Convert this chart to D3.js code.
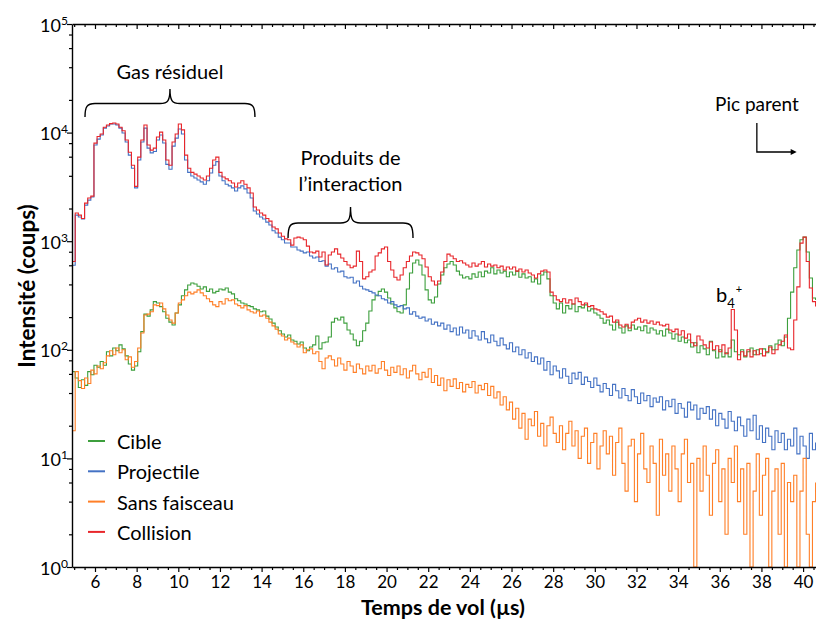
<!DOCTYPE html>
<html>
<head>
<meta charset="utf-8">
<script src="https://cdn.jsdelivr.net/npm/d3@7"></script>
<style>
  body { margin: 0; background: #fff; }
  svg { display: block; }
  text { font-family: Lato, "Open Sans", "DejaVu Sans", sans-serif; fill: #000; }
</style>
</head>
<body>
<svg id="chart" width="816" height="620"></svg>
<script>
// Time-of-flight bins (µs): first bin and bin width
const binStart = 4.9;
const binWidth = 0.15;

// Counts per bin, one array per acquisition
const cible = [
  63,55,45,53,47,63,59,72,69,78,
  72,96,88,104,98,111,102,88,74,65,
  71,96,147,213,204,233,278,270,250,224,
  195,180,169,218,259,315,356,395,412,404,
  385,363,380,345,363,334,345,363,356,371,
  340,327,295,283,270,264,255,250,238,233,
  224,228,204,192,176,162,150,140,131,137,
  123,120,113,118,104,98,106,111,134,102,
  116,118,131,180,195,188,200,176,152,140,
  123,109,120,150,176,228,288,315,345,363,
  340,300,264,243,224,218,259,363,510,630,
  671,604,488,356,288,270,306,404,488,570,
  617,650,604,530,488,458,470,450,500,465,
  521,470,530,510,570,500,543,510,530,470,
  521,488,530,465,500,458,470,421,450,404,
  488,521,450,315,270,238,270,218,255,238,
  264,224,250,243,259,228,238,218,209,195,
  176,188,169,152,180,159,143,166,150,169,
  155,162,150,166,143,159,152,140,150,134,
  155,143,126,140,120,131,116,123,106,116,
  94,109,102,90,120,98,84,100,86,94,
  86,123,96,90,100,86,96,104,90,100,
  92,102,94,109,100,113,123,109,131,195,
  340,570,830,1030,1090,796,458,300,288
];

const projectile = [
  600,1740,1670,1600,2150,2390,2550,7700,8700,9500,
  11000,11500,12000,12000,11750,11000,9900,8200,6200,4700,
  3100,5600,8200,11000,7200,6500,6700,8550,9500,8020,
  5100,4600,7500,8900,10800,9700,5600,4300,3980,3820,
  3660,3520,3350,3600,4250,5000,5400,3980,3600,3350,
  3230,3100,2900,3100,3230,3030,2780,2500,1900,1780,
  1670,1600,1500,1410,1250,1190,1090,1030,962,962,
  885,885,830,810,780,796,730,700,716,650,
  660,590,617,555,570,521,530,470,458,465,
  412,430,385,363,356,345,334,320,315,295,
  288,270,278,259,250,255,238,243,213,224,
  204,195,200,184,192,172,180,166,176,155,
  169,147,159,137,162,143,152,128,150,134,
  123,147,126,116,137,120,109,128,111,102,
  116,96,106,90,100,84,94,78,86,74,
  84,65,78,59,71,64,55,67,57,49,
  61,54,62,48,56,51,45,55,47,41,
  49,44,38,48,42,36,44,38,34,43,
  37,32,40,34,38,30,36,33,37,28,
  34,30,35,26,32,29,24,33,28,31,
  23,29,26,30,23,28,20,26,23,19,
  27,22,18,24,20,16,23,18,25,15,
  20,14,19,16,12,18,14,17,12,15,
  13,19,11,16,13,10,17,12,14
];

const sansFaisceau = [
  18,63,52,44,55,49,65,60,71,67,
  76,88,98,90,104,94,100,81,86,69,
  78,104,143,209,213,224,259,255,270,238,
  209,188,176,218,270,288,315,340,327,340,
  356,334,315,295,278,259,250,278,264,295,
  283,288,264,255,243,255,233,224,218,228,
  204,209,195,180,166,155,140,134,123,128,
  118,113,106,111,94,100,102,92,96,78,
  67,84,88,81,71,84,74,65,78,71,
  62,74,67,60,71,64,72,61,67,78,
  65,58,69,62,71,59,67,55,64,72,
  60,53,62,56,67,50,58,47,55,42,
  53,46,54,44,50,41,48,45,51,40,
  47,43,49,38,46,36,41,31,37,28,
  33,23,29,19,26,15,23,20,27,16,
  21,13,20,24,17,14,20,12,17,22,
  13,18,10,16,19,9,14,17,8,13,
  18,11,16,7,14,19,9,5,13,15,
  4,11,17,8,6,13,9,3,15,7,
  11,5,13,8,4,11,15,6,9,1,
  10,5,13,7,3,9,12,4,8,2,
  10,6,13,4,8,2,9,1,5,11,
  3,7,10,1,5,8,2,9,1,6,
  4,7,1,5,10,2,1,4,6
];

const collision = [
  650,1820,1740,1620,2240,2500,2600,8000,9200,9700,
  11200,11750,12100,12250,12000,11200,10400,8550,6600,5000,
  3200,5950,8550,11750,7700,6900,7200,9100,10100,8550,
  5600,5000,8200,9700,12000,10600,6200,4700,4300,4150,
  3980,3820,3660,3980,4700,5600,5950,4300,3900,3750,
  3600,3440,3160,3440,3600,3350,3100,2780,2065,1940,
  1820,1740,1620,1530,1350,1300,1190,1110,1050,1030,
  920,1070,1090,1070,1030,900,796,780,810,716,
  796,604,747,796,850,760,700,650,604,570,
  590,810,650,450,470,521,543,730,780,850,
  885,650,543,465,439,488,570,650,730,796,
  780,747,690,579,470,430,395,430,521,650,
  760,730,690,650,660,630,604,579,630,590,
  617,650,579,617,590,604,570,590,543,579,
  555,579,530,555,521,543,510,488,458,500,
  530,543,521,340,315,288,278,295,270,288,
  264,300,278,259,270,250,255,238,233,224,
  213,200,204,180,188,169,162,172,159,180,
  188,195,180,188,176,184,172,180,169,166,
  172,152,147,155,137,150,128,140,116,109,
  134,123,111,104,118,100,109,96,111,92,
  104,235,152,81,96,88,100,86,98,90,
  102,88,96,106,92,100,111,120,137,104,
  100,188,380,960,1090,650,371,278,250
];

const seriesNames = ["Cible", "Projectile", "Sans faisceau", "Collision"];
const seriesColors = ["#3d9f3d", "#4472c4", "#ff7f27", "#e8262b"];
const seriesValues = [cible, projectile, sansFaisceau, collision];

const xTickValues = [6, 8, 10, 12, 14, 16, 18, 20, 22, 24, 26, 28, 30, 32, 34, 36, 38, 40];
const yTickExponents = [0, 1, 2, 3, 4, 5];

// ---- layout ----
const svg = d3.select("#chart");
const plot = { left: 72, right: 816, top: 24, bottom: 567 };

const x = d3.scaleLinear().domain([4.896, 40.62]).range([plot.left, plot.right]);
const y = d3.scaleLog().domain([1, 1e5]).range([plot.bottom, plot.top]);

svg.append("defs").append("clipPath").attr("id", "plotClip")
  .append("rect")
  .attr("x", plot.left).attr("y", plot.top - 1)
  .attr("width", plot.right - plot.left + 2).attr("height", plot.bottom - plot.top + 1);

// ---- spectra ----
const line = d3.line()
  .x(d => x(d.t))
  .y(d => y(d.v))
  .curve(d3.curveStepAfter);

const spectra = svg.append("g").attr("clip-path", "url(#plotClip)");
seriesValues.forEach((vals, k) => {
  const pts = vals.map((v, i) => ({ t: binStart + i * binWidth, v: v }));
  spectra.append("path")
    .datum(pts)
    .attr("fill", "none")
    .attr("stroke", seriesColors[k])
    .attr("stroke-width", 1.1)
    .attr("stroke-linejoin", "miter")
    .attr("d", line);
});

// ---- axes ----
const minorX = d3.range(5, 40.75, 0.5).filter(v => !xTickValues.includes(v));
const minorY = [];
yTickExponents.slice(0, -1).forEach(e => [2, 4, 6, 8].forEach(m => minorY.push(m * Math.pow(10, e))));

function styleAxis(g) {
  g.selectAll("path.domain").attr("stroke", "#000").attr("stroke-width", 1.4);
  g.selectAll(".tick line").attr("stroke", "#000").attr("stroke-width", 1.2);
}

// bottom
const gx = svg.append("g").attr("transform", `translate(0,${plot.bottom})`)
  .call(d3.axisBottom(x).tickValues(xTickValues).tickSize(5).tickSizeOuter(0).tickPadding(4).tickFormat(d3.format("d")));
gx.selectAll(".tick text").style("font-size", "17px").style("font-family", "Lato, sans-serif");
styleAxis(gx);
svg.append("g").attr("transform", `translate(0,${plot.bottom})`)
  .call(d3.axisBottom(x).tickValues(minorX).tickSize(3).tickSizeOuter(0).tickFormat(""))
  .call(g => g.select("path.domain").remove())
  .call(styleAxis);

// top (ticks inside)
const gTop = svg.append("g").attr("transform", `translate(0,${plot.top})`)
  .call(d3.axisBottom(x).tickValues(xTickValues).tickSize(5).tickSizeOuter(0).tickFormat(""));
styleAxis(gTop);
svg.append("g").attr("transform", `translate(0,${plot.top})`)
  .call(d3.axisBottom(x).tickValues(minorX).tickSize(3).tickSizeOuter(0).tickFormat(""))
  .call(g => g.select("path.domain").remove())
  .call(styleAxis);

// left
const yTickValues = yTickExponents.map(e => Math.pow(10, e));
const gy = svg.append("g").attr("transform", `translate(${plot.left},0)`)
  .call(d3.axisLeft(y).tickValues(yTickValues).tickSize(5).tickSizeOuter(0).tickFormat(""));
styleAxis(gy);
gy.selectAll(".tick").each(function (d) {
  const t = d3.select(this).append("text")
    .attr("y", 7)
    .attr("text-anchor", "start")
    .style("font-size", "18px");
  t.append("tspan").text("10");
  t.append("tspan")
    .attr("dy", -7)
    .style("font-size", "12px")
    .text(String(Math.round(Math.log10(d))));
  // right-align the whole "10^n" group against the tick
  const bb = t.node().getBBox();
  t.attr("x", -4 - bb.width);
});
svg.append("g").attr("transform", `translate(${plot.left},0)`)
  .call(d3.axisLeft(y).tickValues(minorY).tickSize(3).tickSizeOuter(0).tickFormat(""))
  .call(g => g.select("path.domain").remove())
  .call(styleAxis);

// axis titles
svg.append("text")
  .attr("transform", `translate(35,286) rotate(-90)`)
  .attr("text-anchor", "middle")
  .style("font-size", "22.5px").style("font-weight", "700")
  .text("Intensité (coups)");
svg.append("text")
  .attr("x", 443).attr("y", 615)
  .attr("text-anchor", "middle")
  .style("font-size", "21.5px").style("font-weight", "700")
  .text("Temps de vol (µs)");

// ---- legend ----
const legend = svg.append("g").attr("transform", "translate(88,441)");
seriesNames.forEach((name, k) => {
  const row = legend.append("g").attr("transform", `translate(0,${k * 30.3})`);
  row.append("line").attr("x1", 0).attr("x2", 17).attr("y1", 0).attr("y2", 0)
    .attr("stroke", seriesColors[k]).attr("stroke-width", 2);
  row.append("text").attr("x", 29).attr("y", 8)
    .style("font-size", "20px").text(name);
});

// ---- annotations ----
function bracePath(x1, x2, xm, yEnd, yMid, yTip, r) {
  return `M${x1},${yEnd}` +
    ` C${x1},${yMid + 3} ${x1 + 2},${yMid} ${x1 + r},${yMid}` +
    ` L${xm - r},${yMid}` +
    ` C${xm - 2},${yMid} ${xm},${yMid - 3} ${xm},${yTip}` +
    ` C${xm},${yMid - 3} ${xm + 2},${yMid} ${xm + r},${yMid}` +
    ` L${x2 - r},${yMid}` +
    ` C${x2 - 2},${yMid} ${x2},${yMid + 3} ${x2},${yEnd}`;
}
const ann = svg.append("g");

// residual gas bracket
ann.append("path")
  .attr("d", bracePath(x(5.52), x(13.68), x(9.6), 117, 103.5, 89, 10))
  .attr("fill", "none").attr("stroke", "#000").attr("stroke-width", 1.4);
ann.append("text").attr("x", x(9.6)).attr("y", 79).attr("text-anchor", "middle")
  .style("font-size", "20px").text("Gas résiduel");

// interaction products bracket
ann.append("path")
  .attr("d", bracePath(x(15.27), x(21.27), x(18.27), 238, 223, 207, 10))
  .attr("fill", "none").attr("stroke", "#000").attr("stroke-width", 1.4);
ann.append("text").attr("x", x(18.27)).attr("y", 165).attr("text-anchor", "middle")
  .style("font-size", "20px").text("Produits de");
ann.append("text").attr("x", x(18.27)).attr("y", 191).attr("text-anchor", "middle")
  .style("font-size", "20px").text("l’interaction");

// parent peak pointer
ann.append("text").attr("x", 757).attr("y", 111).attr("text-anchor", "middle")
  .style("font-size", "19px").text("Pic parent");
ann.append("path")
  .attr("d", `M${x(37.78)},123 L${x(37.78)},152 L${x(39.5)},152`)
  .attr("fill", "none").attr("stroke", "#000").attr("stroke-width", 1.3);
ann.append("path")
  .attr("d", `M${x(39.5) + 4},152 l-6,-3 l0,6 z`)
  .attr("fill", "#000");

// b4+ fragment label
const b4 = ann.append("text").attr("x", 716).attr("y", 302).style("font-size", "20px");
b4.append("tspan").text("b");
b4.append("tspan").attr("dy", 6).style("font-size", "13px").text("4");
b4.append("tspan").attr("dy", -15).attr("dx", 1).style("font-size", "11px").text("+");
</script>
</body>
</html>
